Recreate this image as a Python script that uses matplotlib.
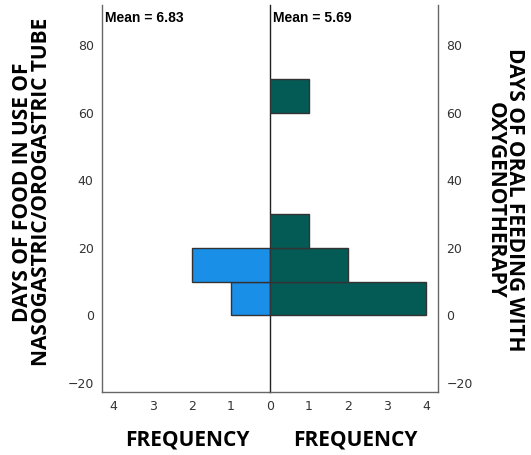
import matplotlib.pyplot as plt

# bins of 10 days, lower edges
bin_edges = [0, 10, 20, 30, 40, 50, 60]
tube_counts = [1, 2, 0, 0, 0, 0, 0]      # nasogastric/orogastric tube
oxy_counts = [4, 2, 1, 0, 0, 0, 1]       # oral feeding with oxygenotherapy
tube_mean = 6.83
oxy_mean = 5.69
yticks = [-20, 0, 20, 40, 60, 80]
xticks = [0, 1, 2, 3, 4]

blue = "#1a8fe8"
teal = "#045a55"
edge = "#333333"
spine_c = "#666666"


def nonzero(edges, counts):
    # SPSS draws nothing for empty bins
    pairs = [(e, c) for e, c in zip(edges, counts) if c > 0]
    return [p[0] for p in pairs], [p[1] for p in pairs]


fig = plt.figure(figsize=(5.31, 4.55), dpi=100)
ax1 = fig.add_axes([102 / 531, 63 / 455, 168 / 531, 387 / 455])
ax2 = fig.add_axes([270 / 531, 63 / 455, 168 / 531, 387 / 455])
ax2.patch.set_visible(False)

y, c = nonzero(bin_edges, tube_counts)
ax1.barh(y, c, height=10, align="edge", color=blue, edgecolor=edge, linewidth=1)
y, c = nonzero(bin_edges, oxy_counts)
ax2.barh(y, c, height=10, align="edge", color=teal, edgecolor=edge, linewidth=1)

for ax in (ax1, ax2):
    ax.set_ylim(-22.7, 92)
    ax.set_xlim(0, 4.3)
    ax.set_yticks(yticks)
    ax.set_xticks(xticks)
    ax.tick_params(length=0, labelsize=9, colors="#333333", pad=6)
    ax.spines["top"].set_visible(False)
    for s in ax.spines.values():
        s.set_color(spine_c)
        s.set_linewidth(1)

ax1.invert_xaxis()
ax1.set_xticklabels(["", "1", "2", "3", "4"])
ax1.spines["right"].set_color("#222222")
ax1.spines["right"].set_zorder(5)
ax2.spines["left"].set_visible(False)
ax2.yaxis.tick_right()

ax1.text(0.02, 0.985, f"Mean = {tube_mean}", transform=ax1.transAxes,
         ha="left", va="top", fontsize=10, fontweight="bold",
         family="Liberation Sans")
ax2.text(0.02, 0.985, f"Mean = {oxy_mean}", transform=ax2.transAxes,
         ha="left", va="top", fontsize=10, fontweight="bold",
         family="Liberation Sans")

lab = dict(fontsize=15, fontweight="bold", family="Open Sans",
           linespacing=0.9)
fig.text(0.06, 0.578, "DAYS OF FOOD IN USE OF\nNASOGASTRIC/OROGASTRIC TUBE",
         rotation=90, ha="center", va="center", **lab)
fig.text(0.951, 0.56, "DAYS OF ORAL FEEDING WITH\nOXYGENOTHERAPY",
         rotation=270, ha="center", va="center", **lab)
fig.text(187 / 531, 1 - 440 / 455, "FREQUENCY", ha="center", va="center", **lab)
fig.text(355 / 531, 1 - 440 / 455, "FREQUENCY", ha="center", va="center", **lab)

fig.savefig("out.png", dpi=100)
